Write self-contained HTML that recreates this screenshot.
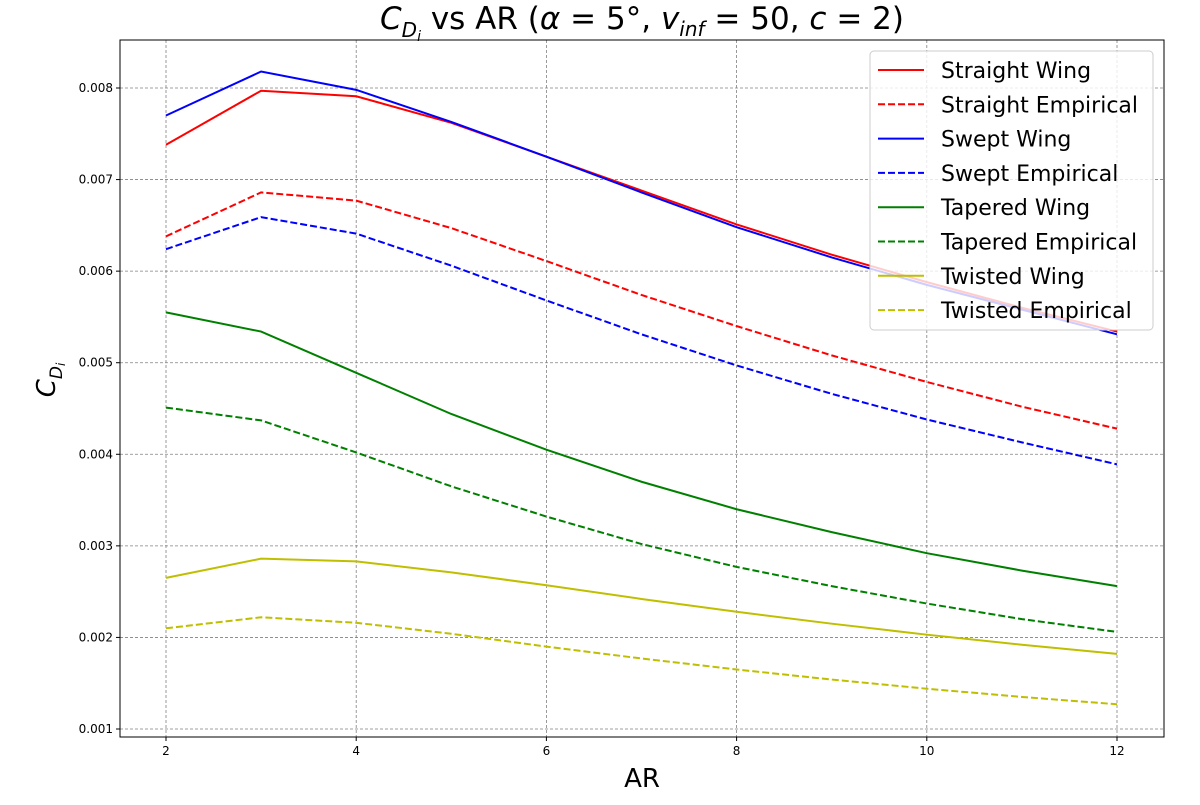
<!DOCTYPE html>
<html><head><meta charset="utf-8"><style>
body{margin:0;background:#fff;}
svg text{font-family:"DejaVu Sans","Liberation Sans",sans-serif;}
</style></head><body>
<svg id="c" width="1200" height="800" xmlns="http://www.w3.org/2000/svg"></svg>
<script>
const arValues=[2,3,4,5,6,7,8,9,10,11,12];
const straightWing=[.00738,.00797,.00791,.00762,.00725,.00688,.00651,.00618,.00588,.00560,.00534];
const straightEmp=[.00638,.00686,.00677,.00647,.00611,.00574,.00540,.00508,.00479,.00452,.00428];
const sweptWing=[.00770,.00818,.00798,.00763,.00725,.00686,.00648,.00615,.00585,.00558,.00531];
const sweptEmp=[.00624,.00659,.00641,.00606,.00568,.00531,.00497,.00466,.00438,.00413,.00389];
const taperedWing=[.00555,.00534,.00489,.00444,.00405,.00370,.00340,.00315,.00292,.00273,.00256];
const taperedEmp=[.00451,.00437,.00402,.00365,.00332,.00302,.00277,.00256,.00237,.00220,.00206];
const twistedWing=[.00265,.00286,.00283,.00271,.00257,.00242,.00228,.00215,.00203,.00192,.00182];
const twistedEmp=[.00210,.00222,.00216,.00204,.00190,.00177,.00165,.00154,.00144,.00135,.00127];
const xTicks=[2,4,6,8,10,12];
const yTicks=[0.001,0.002,0.003,0.004,0.005,0.006,0.007,0.008];
const seriesNames=["Straight Wing","Straight Empirical","Swept Wing","Swept Empirical","Tapered Wing","Tapered Empirical","Twisted Wing","Twisted Empirical"];
const seriesData=[straightWing,straightEmp,sweptWing,sweptEmp,taperedWing,taperedEmp,twistedWing,twistedEmp];
const colors=["#ff0000","#ff0000","#0000ff","#0000ff","#008000","#008000","#bfbf00","#bfbf00"];
const dashed=[false,true,false,true,false,true,false,true];

const svg=document.getElementById('c');const NS="http://www.w3.org/2000/svg";
const L=120,R=1164,T=40,B=737;
const x=v=>166+(v-2)*(1117-166)/10;
const y=v=>729-(v-0.001)*(729-88)/0.007;
function mk(t,a,txt){const e=document.createElementNS(NS,t);for(const k in a)e.setAttribute(k,a[k]);if(txt!==undefined)e.textContent=txt;svg.appendChild(e);return e;}
xTicks.forEach(v=>{
 const g=mk('line',{x1:x(v),x2:x(v),y1:T,y2:B,stroke:'#808080','stroke-width':0.8,'stroke-dasharray':'3,2'});
 
 mk('line',{x1:x(v),x2:x(v),y1:B,y2:B+4,stroke:'#000'});
 const t=mk('text',{x:x(v),y:B+18,'text-anchor':'middle','font-size':12},v);
 
});
yTicks.forEach(v=>{
 const g=mk('line',{x1:L,x2:R,y1:y(v),y2:y(v),stroke:'#808080','stroke-width':0.8,'stroke-dasharray':'3,2'});
 
 mk('line',{x1:L-4,x2:L,y1:y(v),y2:y(v),stroke:'#000'});
 const t=mk('text',{x:L-7,y:y(v)+4,'text-anchor':'end','font-size':12},v.toFixed(3));
 
});
seriesData.forEach((d,i)=>{
 const p=mk('polyline',{points:d.map((v,j)=>x(arValues[j])+','+y(v)).join(' '),fill:'none',stroke:colors[i],'stroke-width':2,'stroke-dasharray':dashed[i]?'7,3':'none'});
 
});
const ax=mk('rect',{x:L,y:T,width:R-L,height:B-T,fill:'none',stroke:'#000','stroke-width':1});

const lg=mk('rect',{x:870,y:51,width:283,height:279,rx:4,fill:'#fff','fill-opacity':0.8,stroke:'#ccc'});

seriesNames.forEach((n,i)=>{
 const yy=70+i*34.3;
 mk('line',{x1:878,x2:924,y1:yy,y2:yy,stroke:colors[i],'stroke-width':2,'stroke-dasharray':dashed[i]?'7,3':'none'});
 const t=mk('text',{x:941,y:yy+8,'font-size':22},n);
 
});
</script>
<svg style="position:absolute;left:0;top:0" width="1200" height="800" xmlns="http://www.w3.org/2000/svg">
<text x="642" y="29" text-anchor="middle" font-size="31" font-family="DejaVu Sans,sans-serif"><tspan font-style="italic">C</tspan><tspan font-style="italic" font-size="20" dy="8">D</tspan><tspan font-style="italic" font-size="14" dy="4">i</tspan><tspan dy="-12"> vs AR (</tspan><tspan font-style="italic">α</tspan> = 5°, <tspan font-style="italic">v</tspan><tspan font-style="italic" font-size="20" dy="7">inf</tspan><tspan dy="-7"> = 50, </tspan><tspan font-style="italic">c</tspan> = 2)</text>
<text x="642" y="787" text-anchor="middle" font-size="26" font-family="DejaVu Sans,sans-serif">AR</text>
<text transform="translate(55,380) rotate(-90)" text-anchor="middle" font-size="26" font-family="DejaVu Sans,sans-serif"><tspan font-style="italic">C</tspan><tspan font-style="italic" font-size="17" dy="7">D</tspan><tspan font-style="italic" font-size="12" dy="3">i</tspan></text>
</svg>
</body></html>
